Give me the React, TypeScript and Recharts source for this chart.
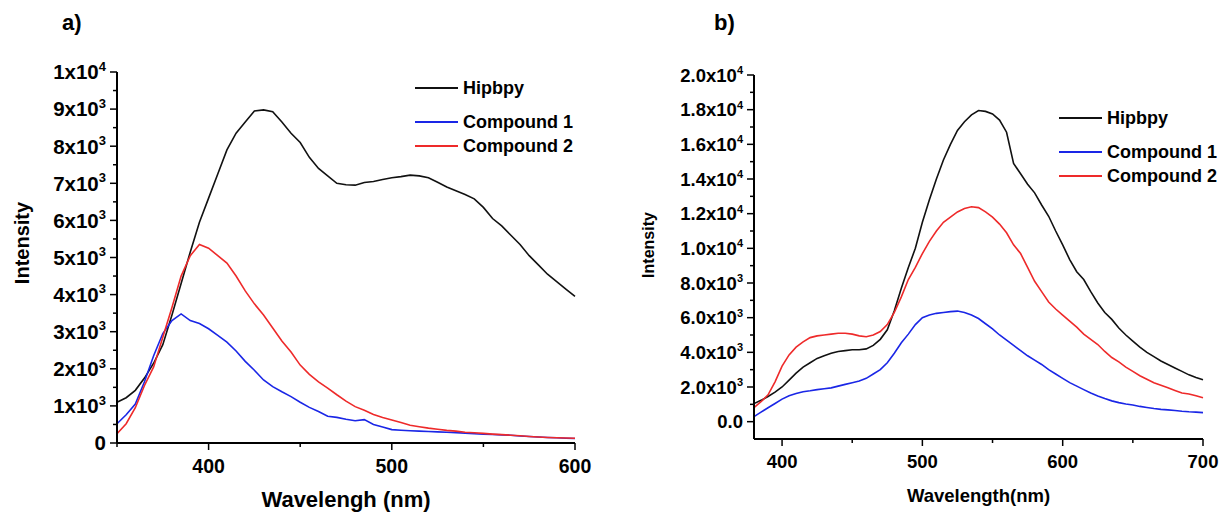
import { Label, Legend, Line, LineChart, XAxis, YAxis } from "recharts";

// panel a) emission spectra, 350-600 nm
const wavelengthA = [
  350, 355, 360, 365, 370, 375, 380, 385, 390, 395, 400, 405, 410, 415, 420, 425, 430,
  435, 440, 445, 450, 455, 460, 465, 470, 475, 480, 485, 490, 495, 500, 505, 510, 515,
  520, 525, 530, 535, 540, 545, 550, 555, 560, 565, 570, 575, 580, 585, 590, 595, 600,
];
const hipbpyA = [
  1100, 1220, 1420, 1750, 2150, 2650, 3450, 4300, 5150, 5950, 6600, 7250, 7900, 8350,
  8650, 8950, 8980, 8930, 8650, 8350, 8100, 7700, 7400, 7200, 7000, 6960, 6950, 7020,
  7050, 7100, 7150, 7180, 7220, 7200, 7150, 7030, 6900, 6800, 6700, 6580, 6350, 6050,
  5850, 5600, 5350, 5050, 4800, 4550, 4350, 4150, 3950,
];
const compound1A = [
  520, 760, 1050, 1650, 2350, 2950, 3300, 3480, 3300, 3220, 3080, 2900, 2720, 2480,
  2200, 1960, 1700, 1520, 1380, 1250, 1100, 960, 850, 720, 690, 640, 600, 630, 500, 430,
  360, 345, 330, 320, 310, 300, 290, 280, 265, 250, 240, 230, 220, 210, 190, 175, 160,
  150, 140, 130, 120,
];
const compound2A = [
  250, 520, 950, 1550, 2050, 2850, 3650, 4500, 5050, 5350, 5250, 5050, 4850, 4500, 4100,
  3750, 3450, 3100, 2750, 2450, 2100, 1850, 1650, 1480, 1300, 1130, 980, 880, 770, 690,
  620, 550, 480, 440, 400, 370, 340, 320, 290, 275, 260, 240, 225, 210, 195, 175, 160,
  150, 140, 135, 130,
];

// panel b) emission spectra, 380-700 nm
const wavelengthB = [
  380, 385, 390, 395, 400, 405, 410, 415, 420, 425, 430, 435, 440, 445, 450, 455, 460,
  465, 470, 475, 480, 485, 490, 495, 500, 505, 510, 515, 520, 525, 530, 535, 540, 545,
  550, 555, 560, 565, 570, 575, 580, 585, 590, 595, 600, 605, 610, 615, 620, 625, 630,
  635, 640, 645, 650, 655, 660, 665, 670, 675, 680, 685, 690, 695, 700,
];
const hipbpyB = [
  1040, 1230, 1450, 1700, 2000, 2400, 2800, 3150, 3400, 3650, 3800, 3950, 4050, 4100,
  4150, 4150, 4200, 4400, 4750, 5300, 6400, 7700, 8900, 10000, 11500, 12800, 14000,
  15100, 16000, 16800, 17300, 17700, 17950, 17900, 17750, 17400, 16700, 14900, 14300,
  13700, 13200, 12500, 11850, 11000, 10200, 9350, 8650, 8200, 7500, 6850, 6300, 5900,
  5400, 5000, 4650, 4300, 4000, 3750, 3500, 3300, 3100, 2900, 2700, 2550, 2420,
];
const compound1B = [
  290, 550, 800, 1050, 1300, 1500, 1620, 1730, 1780, 1850, 1900, 1950, 2050, 2150, 2250,
  2350, 2500, 2750, 3000, 3400, 3950, 4550, 5050, 5600, 6000, 6150, 6250, 6300, 6350,
  6380, 6300, 6150, 5950, 5650, 5350, 5000, 4700, 4400, 4100, 3800, 3550, 3300, 3000,
  2750, 2500, 2250, 2050, 1850, 1650, 1480, 1330, 1200, 1100, 1020, 960, 880, 820, 760,
  710, 680, 640, 600, 570, 550, 520,
];
const compound2B = [
  810, 1150, 1550, 2300, 3200, 3850, 4300, 4600, 4850, 4950, 5000, 5050, 5100, 5100,
  5050, 4950, 4900, 5000, 5200, 5600, 6300, 7200, 8200, 8900, 9700, 10400, 11000, 11500,
  11800, 12100, 12300, 12400, 12350, 12100, 11800, 11400, 10900, 10200, 9700, 8900,
  8100, 7500, 6900, 6500, 6150, 5800, 5450, 5050, 4750, 4450, 4050, 3700, 3450, 3150,
  2900, 2650, 2450, 2250, 2100, 1950, 1800, 1650, 1600, 1500, 1380,
];

// axis ticks
const yTicksA = [0, 500, 1000, 1500, 2000, 2500, 3000, 3500, 4000, 4500, 5000, 5500, 6000, 6500, 7000, 7500, 8000, 8500, 9000, 9500, 10000];
const yMajorA = [0, 1000, 2000, 3000, 4000, 5000, 6000, 7000, 8000, 9000, 10000];
const xTicksA = [350, 400, 450, 500, 550, 600];
const xMajorA = [400, 500, 600];
const yTicksB = [0, 1000, 2000, 3000, 4000, 5000, 6000, 7000, 8000, 9000, 10000, 11000, 12000, 13000, 14000, 15000, 16000, 17000, 18000, 19000, 20000];
const yMajorB = [0, 2000, 4000, 6000, 8000, 10000, 12000, 14000, 16000, 18000, 20000];
const xTicksB = [400, 450, 500, 550, 600, 650, 700];
const xMajorB = [400, 500, 600, 700];

const seriesNames = ["Hipbpy", "Compound 1", "Compound 2"];
const seriesColors = ["#111111", "#1a26e6", "#ee2a2a"];

const FONT = "'Liberation Sans', Arial, sans-serif";

const dataA = wavelengthA.map((w, i) => ({
  w,
  hipbpy: hipbpyA[i],
  c1: compound1A[i],
  c2: compound2A[i],
}));
const dataB = wavelengthB.map((w, i) => ({
  w,
  hipbpy: hipbpyB[i],
  c1: compound1B[i],
  c2: compound2B[i],
}));

function sci(v: number, oneDecimal: boolean) {
  if (v === 0) return { base: oneDecimal ? "0.0" : "0", exp: "" };
  const e = Math.floor(Math.log10(v) + 1e-9);
  const m = v / Math.pow(10, e);
  return { base: (oneDecimal ? m.toFixed(1) : String(Math.round(m))) + "x10", exp: String(e) };
}

function YTick(props: any) {
  const { x, y, payload, majors, oneDecimal, fontSize, supSize } = props;
  const v = payload.value;
  const major = majors.includes(v);
  const { base, exp } = sci(v, oneDecimal);
  return (
    <g>
      <line x1={x - (major ? 7 : 4)} x2={x} y1={y} y2={y} stroke="#000" strokeWidth={1.5} />
      {major && (
        <text
          x={x - 11}
          y={y + fontSize * 0.36}
          textAnchor="end"
          fontSize={fontSize}
          fontWeight="bold"
          fontFamily={FONT}
          fill="#000"
        >
          <tspan>{base}</tspan>
          {exp && (
            <tspan dy={-fontSize * 0.42} fontSize={supSize}>
              {exp}
            </tspan>
          )}
        </text>
      )}
    </g>
  );
}

function XTick(props: any) {
  const { x, y, payload, majors, fontSize, dy } = props;
  const major = majors.includes(payload.value);
  return (
    <g>
      <line x1={x} x2={x} y1={y} y2={y + (major ? 7 : 4)} stroke="#000" strokeWidth={1.5} />
      {major && (
        <text x={x} y={y + dy} textAnchor="middle" fontSize={fontSize} fontWeight="bold" fontFamily={FONT} fill="#000">
          {payload.value}
        </text>
      )}
    </g>
  );
}

// fixed order, same as the figure (Hipbpy first)
function LegendBox({ fontSize }: any) {
  return (
    <div style={{ fontFamily: FONT, fontWeight: "bold", fontSize, color: "#000" }}>
      {seriesNames.map((name, i) => (
        <div
          key={name}
          style={{ display: "flex", alignItems: "center", height: 24, marginBottom: i === 0 ? 10 : 0 }}
        >
          <svg width={43} height={4} style={{ marginRight: 5 }}>
            <line x1={0} x2={43} y1={2} y2={2} stroke={seriesColors[i]} strokeWidth={2} />
          </svg>
          <span style={{ whiteSpace: "nowrap" }}>{name}</span>
        </div>
      ))}
    </div>
  );
}

function Panel({
  data,
  width,
  margin,
  yWidth,
  yDomain,
  yTicks,
  yMajor,
  xDomain,
  xTicks,
  xMajor,
  oneDecimal,
  yFont,
  xFont,
  xDy,
  xTitle,
  xTitleSize,
  xTitleDy,
  yTitleX,
  yTitleY,
  yTitleSize,
  legendPos,
}: any) {
  return (
    <LineChart width={width} height={513} data={data} margin={margin}>
      <XAxis
        dataKey="w"
        type="number"
        domain={xDomain}
        ticks={xTicks}
        interval={0}
        height={30}
        tickSize={0}
        tickMargin={0}
        tickLine={false}
        axisLine={{ stroke: "#000", strokeWidth: 2 }}
        tick={(p: any) => <XTick {...p} majors={xMajor} fontSize={xFont} dy={xDy} />}
      >
        <Label
          content={({ viewBox }: any) => (
            <text
              x={viewBox.x + viewBox.width / 2}
              y={viewBox.y + xTitleDy}
              textAnchor="middle"
              fontSize={xTitleSize}
              fontWeight="bold"
              fontFamily={FONT}
              fill="#000"
            >
              {xTitle}
            </text>
          )}
        />
      </XAxis>
      <YAxis
        type="number"
        width={yWidth}
        domain={yDomain}
        ticks={yTicks}
        interval={0}
        tickSize={0}
        tickMargin={0}
        tickLine={false}
        axisLine={{ stroke: "#000", strokeWidth: 2 }}
        tick={(p: any) => (
          <YTick {...p} majors={yMajor} oneDecimal={oneDecimal} fontSize={yFont} supSize={Math.round(yFont * 0.62)} />
        )}
      >
        <Label
          content={() => (
            <text
              x={yTitleX}
              y={yTitleY}
              transform={`rotate(-90, ${yTitleX}, ${yTitleY})`}
              textAnchor="middle"
              dominantBaseline="central"
              fontSize={yTitleSize}
              fontWeight="bold"
              fontFamily={FONT}
              fill="#000"
            >
              Intensity
            </text>
          )}
        />
      </YAxis>
      <Legend
        layout="vertical"
        align="center"
        verticalAlign="middle"
        wrapperStyle={{ top: legendPos.top, left: legendPos.left, width: 200 }}
        content={() => <LegendBox fontSize={18} />}
      />
      <Line type="linear" dataKey="hipbpy" name={seriesNames[0]} stroke={seriesColors[0]} strokeWidth={1.6} dot={false} isAnimationActive={false} />
      <Line type="linear" dataKey="c1" name={seriesNames[1]} stroke={seriesColors[1]} strokeWidth={1.6} dot={false} isAnimationActive={false} />
      <Line type="linear" dataKey="c2" name={seriesNames[2]} stroke={seriesColors[2]} strokeWidth={1.6} dot={false} isAnimationActive={false} />
    </LineChart>
  );
}

export default function App() {
  return (
    <div style={{ position: "absolute", left: 0, top: 0, width: 1226, height: 513, background: "#fff" }}>
      <div style={{ position: "absolute", left: 62, top: 10, fontFamily: FONT, fontWeight: "bold", fontSize: 22 }}>a)</div>
      <div style={{ position: "absolute", left: 714, top: 10, fontFamily: FONT, fontWeight: "bold", fontSize: 22 }}>b)</div>
      <div style={{ position: "absolute", left: 0, top: 0 }}>
        <Panel
          data={dataA}
          width={620}
          margin={{ top: 72, right: 45, bottom: 40, left: 0 }}
          yWidth={117}
          yDomain={[0, 10000]}
          yTicks={yTicksA}
          yMajor={yMajorA}
          xDomain={[350, 600]}
          xTicks={xTicksA}
          xMajor={xMajorA}
          oneDecimal={false}
          yFont={20.5}
          xFont={19.5}
          xDy={30}
          xTitle="Wavelengh (nm)"
          xTitleSize={22}
          xTitleDy={64}
          yTitleX={22}
          yTitleY={243}
          yTitleSize={20}
          legendPos={{ top: 76, left: 415 }}
        />
      </div>
      <div style={{ position: "absolute", left: 620, top: 0 }}>
        <Panel
          data={dataB}
          width={606}
          margin={{ top: 75, right: 23, bottom: 44, left: 0 }}
          yWidth={134}
          yDomain={[-1000, 20000]}
          yTicks={yTicksB}
          yMajor={yMajorB}
          xDomain={[380, 700]}
          xTicks={xTicksB}
          xMajor={xMajorB}
          oneDecimal={true}
          yFont={18.5}
          xFont={18.5}
          xDy={29}
          xTitle="Wavelength(nm)"
          xTitleSize={18.5}
          xTitleDy={63}
          yTitleX={28}
          yTitleY={245}
          yTitleSize={16}
          legendPos={{ top: 106, left: 439 }}
        />
      </div>
    </div>
  );
}
